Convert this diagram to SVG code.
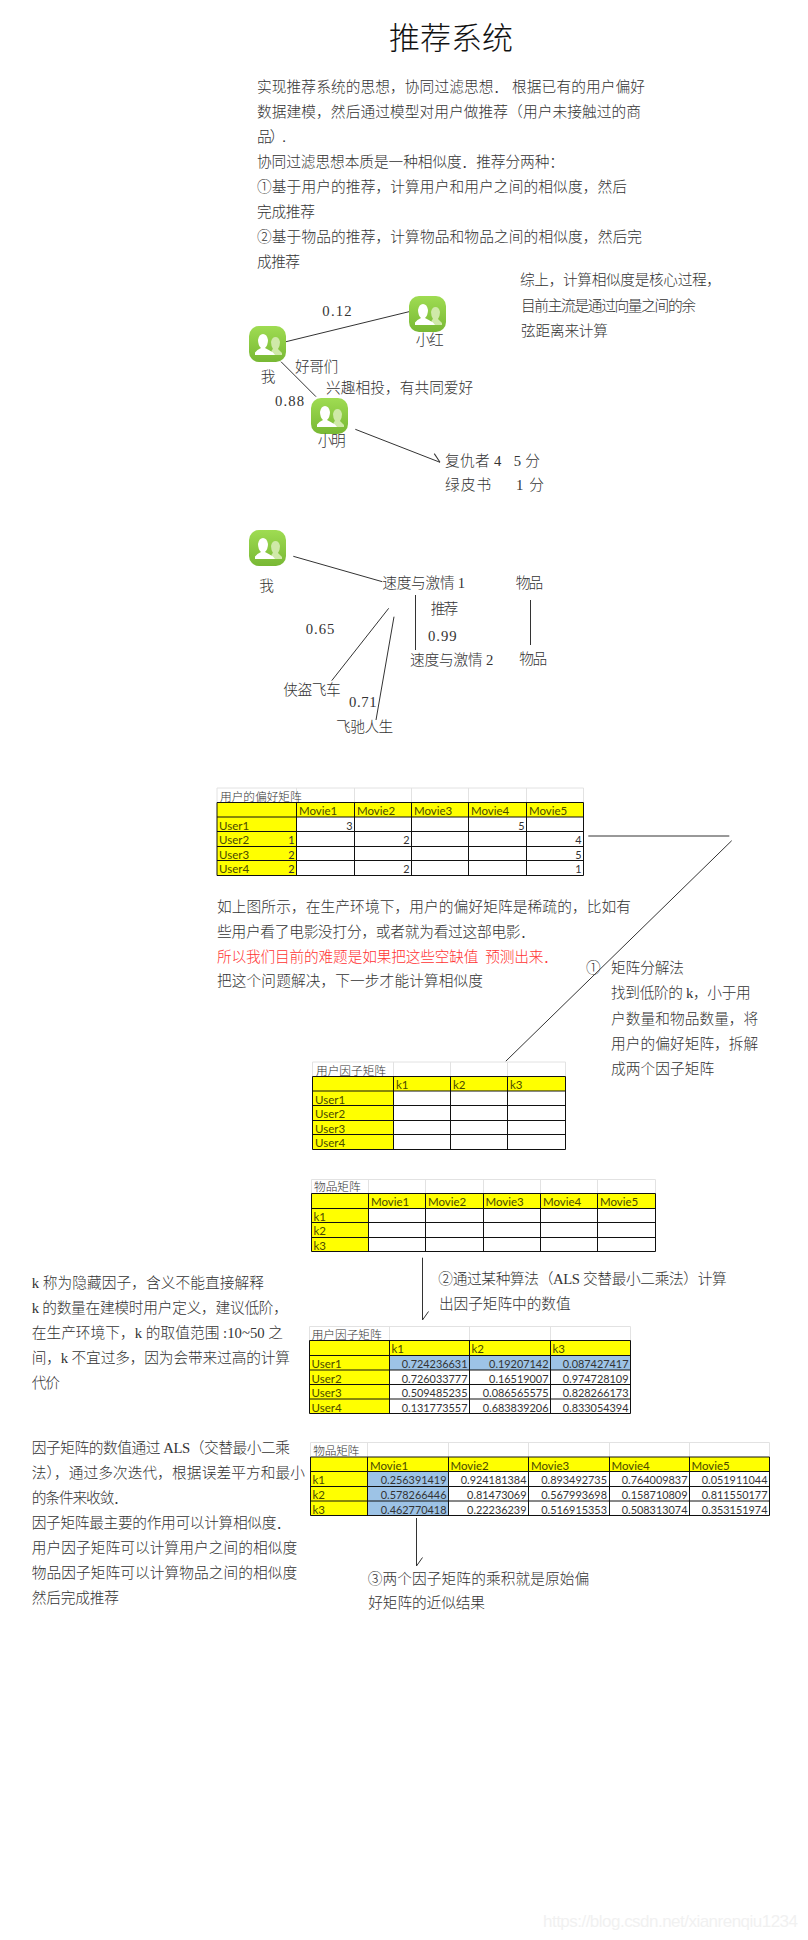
<svg xmlns="http://www.w3.org/2000/svg" width="808" height="1940" viewBox="0 0 808 1940">
<style>
text{font-family:"Liberation Serif","Noto Sans CJK SC",serif;font-size:14.7px;fill:#333;font-weight:300}
.title{font-size:31px;fill:#111}
.red{fill:#f33}
.lb{font-family:"Noto Sans CJK SC","Liberation Sans",sans-serif;font-size:11.7px;fill:#333}
.c{font-family:Lato,"Liberation Sans",sans-serif;font-size:11.5px;fill:#4a4a00;font-weight:400}
.n{font-family:Lato,"Liberation Sans",sans-serif;font-size:10.9px;fill:#333;text-anchor:end;font-weight:400}
.wm{font-family:"Liberation Sans",sans-serif;font-size:17px;fill:#f1f1f1;font-weight:400}
.y{fill:#ff0}.b{fill:#9dc3e6}
.g{fill:none;stroke:#111;stroke-width:1}
.l{fill:none;stroke:#e2e2e2;stroke-width:1}
.k{fill:none;stroke:#333;stroke-width:1}
</style>
<defs>
<linearGradient id="ig" x1="0" y1="0" x2="0" y2="1"><stop offset="0" stop-color="#9fdc52"/><stop offset="1" stop-color="#78b834"/></linearGradient>
<symbol id="icon" viewBox="0 0 37 36" width="37" height="36" overflow="visible">
<rect width="37" height="36" rx="10" fill="url(#ig)"/>
<path d="M22 29 Q22 24 24 23 Q22 20 22 16 Q23 11 26.5 11 Q30 11 31 16 Q31 20 29 23 L33 27 V29 Z" fill="#cfe9a8"/>
<path d="M6 29 V26.500 Q8 23.500 12 22 Q9 19 9 14 Q10 8 14 8 Q18 8 19 14 Q19 19 16 22 Q20 24 24 26.500 L26 29 Z" fill="#fff"/>
</symbol>
<marker id="barb" markerUnits="userSpaceOnUse" markerWidth="1" markerHeight="1" refX="0" refY="0" orient="auto" overflow="visible"><path d="M-8.500-6L0 0" fill="none" stroke="#333"/></marker>
</defs>
<rect width="808" height="1940" fill="#fff"/>
<g id="intro">
<text class="title" x="389" y="49" textLength="124">推荐系统</text>
<text x="257" y="91.500" textLength="388">实现推荐系统的思想，协同过滤思想． 根据已有的用户偏好</text>
<text x="257" y="116.500" textLength="384">数据建模，然后通过模型对用户做推荐（用户未接触过的商</text>
<text x="257" y="141.500" textLength="29">品）.</text>
<text x="257" y="166.500" textLength="307">协同过滤思想本质是一种相似度．推荐分两种：</text>
<text x="257" y="191.500" textLength="370">①基于用户的推荐，计算用户和用户之间的相似度，然后</text>
<text x="257" y="216.500" textLength="58">完成推荐</text>
<text x="257" y="241.500" textLength="385">②基于物品的推荐，计算物品和物品之间的相似度，然后完</text>
<text x="257" y="266.500" textLength="43">成推荐</text>
<text x="520" y="285" textLength="201">综上，计算相似度是核心过程，</text>
<text x="521" y="310.500" textLength="175">目前主流是通过向量之间的余</text>
<text x="521" y="335.500" textLength="87">弦距离来计算</text>
</g>
<g id="connectors">
<path class="k" d="M286 341.700L409 311.700M281 361.700L316 396.700"/>
<path class="k" d="M355.300 429.300L440 462.300" marker-end="url(#barb)"/>
<path class="k" d="M293.300 556.300L382.300 581.700M388.700 608.300L331.700 680.700M394 616.700L376 720M415.500 595V650M530.500 600V645"/>
<path class="k" d="M588.300 836H729.300M731.700 840.700L505.700 1061.300"/>
<path class="k" d="M422.500 1257.700V1320" marker-end="url(#barb)"/>
<path class="k" d="M416.500 1518V1566" marker-end="url(#barb)"/>
</g>
<g id="node-me-1"><use href="#icon" x="249" y="326"/><text x="260.700" y="381.500">我</text></g>
<g id="node-xiaohong"><use href="#icon" x="409" y="296"/><text x="415.700" y="344.800" textLength="28">小红</text></g>
<g id="node-xiaoming"><use href="#icon" x="311" y="398"/><text x="317.700" y="446.200" textLength="28">小明</text></g>
<g id="node-me-2"><use href="#icon" x="249" y="530"/><text x="259.300" y="590.500">我</text></g>
<g id="labels">
<text x="322.300" y="315.500" textLength="29.400">0.12</text>
<text x="295" y="371.500" textLength="43.300">好哥们</text>
<text x="326" y="393.200" textLength="147.300">兴趣相投，有共同爱好</text>
<text x="275" y="405.500" textLength="29">0.88</text>
<text x="445" y="465.500" textLength="95" xml:space="preserve">复仇者 4   5 分</text>
<text x="445" y="489.500" textLength="99" xml:space="preserve">绿皮书     1 分</text>
<text x="382.300" y="587.800" textLength="82.700">速度与激情 1</text>
<text x="515.700" y="588.200" textLength="27.600">物品</text>
<text x="430.700" y="614.200" textLength="27.600">推荐</text>
<text x="305.700" y="633.500" textLength="28.600">0.65</text>
<text x="428" y="640.500" textLength="28.700">0.99</text>
<text x="410" y="664.500" textLength="83.300">速度与激情 2</text>
<text x="519.300" y="663.800" textLength="28">物品</text>
<text x="283.300" y="694.500" textLength="57.400">侠盗飞车</text>
<text x="349" y="707.200" textLength="27.700">0.71</text>
<text x="336" y="732.200" textLength="57.300">飞驰人生</text>
</g>
<g id="table-preference">
<rect class="y" x="217" y="802.500" width="366.500" height="14.500"/><rect class="y" x="217" y="817" width="79.500" height="58.500"/>
<path class="l" d="M217 788H583.500V802.500M217 788V802.500M296.500 788V802.500M354.500 788V802.500M411.500 788V802.500M468.500 788V802.500M526.500 788V802.500"/>
<path class="g" d="M217 802.500H583.500M217 817H583.500M217 831.500H583.500M217 846.500H583.500M217 860.500H583.500M217 875.500H583.500M217 802.500V875.500M296.500 802.500V875.500M354.500 802.500V875.500M411.500 802.500V875.500M468.500 802.500V875.500M526.500 802.500V875.500M583.500 802.500V875.500"/>
<text class="lb" x="220" y="800.500" textLength="81.700">用户的偏好矩阵</text>
<text class="c" x="299" y="815">Movie1</text><text class="c" x="357" y="815">Movie2</text><text class="c" x="414" y="815">Movie3</text><text class="c" x="471" y="815">Movie4</text><text class="c" x="529" y="815">Movie5</text>
<text class="c" x="219" y="829.500">User1</text><text class="c" x="219" y="844">User2</text><text class="c" x="219" y="858.500">User3</text><text class="c" x="219" y="873">User4</text>
<text class="n" x="409.500" y="829.500" style="display:none"></text>
<text class="n" x="352.500" y="829.500">3</text><text class="n" x="524.500" y="829.500">5</text>
<text class="n" x="352.500" y="844" dx="-58">1</text><text class="n" x="409.500" y="844" dx="0">2</text><text class="n" x="581.500" y="844">4</text>
<text class="n" x="294.500" y="858.500">2</text><text class="n" x="581.500" y="858.500">5</text>
<text class="n" x="294.500" y="873">2</text><text class="n" x="409.500" y="873">2</text><text class="n" x="581.500" y="873">1</text>
</g>
<g id="notes">
<text x="217" y="911.500" textLength="414">如上图所示，在生产环境下，用户的偏好矩阵是稀疏的，比如有</text>
<text x="217" y="937.200" textLength="318">些用户看了电影没打分，或者就为看过这部电影．</text>
<text class="red" x="217" y="962.200" textLength="341" xml:space="preserve">所以我们目前的难题是如果把这些空缺值  预测出来．</text>
<text x="217" y="986.200" textLength="266">把这个问题解决，下一步才能计算相似度</text>
<text x="586" y="972.500">①</text>
<text x="611" y="973.200" textLength="73">矩阵分解法</text>
<text x="611" y="998.200" textLength="139.700">找到低阶的 k，小于用</text>
<text x="611" y="1023.500" textLength="147.300">户数量和物品数量，将</text>
<text x="611" y="1048.500" textLength="147.300">用户的偏好矩阵，拆解</text>
<text x="611" y="1073.500" textLength="103.300">成两个因子矩阵</text>
</g>
<g id="table-user-factor">
<rect class="y" x="312.500" y="1076.500" width="253" height="14.500"/><rect class="y" x="312.500" y="1091" width="81" height="58.500"/>
<path class="l" d="M312.500 1062H565.500V1076.500M312.500 1062V1076.500M393.500 1062V1076.500M450.500 1062V1076.500M507.500 1062V1076.500"/>
<path class="g" d="M312.500 1076.500H565.500M312.500 1091H565.500M312.500 1105.500H565.500M312.500 1120.500H565.500M312.500 1134.500H565.500M312.500 1149.500H565.500M312.500 1076.500V1149.500M393.500 1076.500V1149.500M450.500 1076.500V1149.500M507.500 1076.500V1149.500M565.500 1076.500V1149.500"/>
<text class="lb" x="316" y="1074.500" textLength="70">用户因子矩阵</text>
<text class="c" x="396" y="1089">k1</text><text class="c" x="453" y="1089">k2</text><text class="c" x="510" y="1089">k3</text>
<text class="c" x="315" y="1103.500">User1</text><text class="c" x="315" y="1118">User2</text><text class="c" x="315" y="1132.500">User3</text><text class="c" x="315" y="1147">User4</text>
</g>
<g id="table-item">
<rect class="y" x="311.500" y="1193.500" width="344" height="15"/><rect class="y" x="311.500" y="1208.500" width="57" height="43"/>
<path class="l" d="M311.500 1179.500H655.500V1193.500M311.500 1179.500V1193.500M368.500 1179.500V1193.500M425.500 1179.500V1193.500M483.500 1179.500V1193.500M540.500 1179.500V1193.500M597.500 1179.500V1193.500"/>
<path class="g" d="M311.500 1193.500H655.500M311.500 1208.500H655.500M311.500 1222.500H655.500M311.500 1237.500H655.500M311.500 1251.500H655.500M311.500 1193.500V1251.500M368.500 1193.500V1251.500M425.500 1193.500V1251.500M483.500 1193.500V1251.500M540.500 1193.500V1251.500M597.500 1193.500V1251.500M655.500 1193.500V1251.500"/>
<text class="lb" x="314" y="1191" textLength="46.700">物品矩阵</text>
<text class="c" x="371" y="1206">Movie1</text><text class="c" x="428" y="1206">Movie2</text><text class="c" x="485.500" y="1206">Movie3</text><text class="c" x="543" y="1206">Movie4</text><text class="c" x="600" y="1206">Movie5</text>
<text class="c" x="313.500" y="1220.500">k1</text><text class="c" x="313.500" y="1235">k2</text><text class="c" x="313.500" y="1249.500">k3</text>
</g>
<g id="steps">
<text x="438.300" y="1283.800" textLength="288.400">②通过某种算法（ALS 交替最小二乘法）计算</text>
<text x="439" y="1308.800" textLength="131.700">出因子矩阵中的数值</text>
<text x="367.700" y="1583.800" textLength="221.600">③两个因子矩阵的乘积就是原始偏</text>
<text x="368.300" y="1608.200" textLength="116.700">好矩阵的近似结果</text>
</g>
<g id="table-user-values">
<rect class="y" x="309.500" y="1340.500" width="321" height="15"/><rect class="y" x="309.500" y="1355.500" width="80" height="58"/>
<rect class="b" x="389.500" y="1355.500" width="241" height="14.500"/>
<path class="l" d="M309.500 1326.500H630.500V1340.500M309.500 1326.500V1340.500M389.500 1326.500V1340.500M469.500 1326.500V1340.500M550.500 1326.500V1340.500"/>
<path class="g" d="M309.500 1340.500H630.500M309.500 1355.500H630.500M309.500 1370H630.500M309.500 1384.500H630.500M309.500 1399H630.500M309.500 1413.500H630.500M309.500 1340.500V1413.500M389.500 1340.500V1413.500M469.500 1340.500V1413.500M550.500 1340.500V1413.500M630.500 1340.500V1413.500"/>
<text class="lb" x="311.700" y="1338.500" textLength="70">用户因子矩阵</text>
<text class="c" x="391.500" y="1353">k1</text><text class="c" x="471.500" y="1353">k2</text><text class="c" x="552.500" y="1353">k3</text>
<text class="c" x="311.500" y="1368">User1</text><text class="c" x="311.500" y="1382.500">User2</text><text class="c" x="311.500" y="1397">User3</text><text class="c" x="311.500" y="1411.500">User4</text>
<text class="n" x="467.500" y="1368">0.724236631</text><text class="n" x="548.500" y="1368">0.19207142</text><text class="n" x="628.500" y="1368">0.087427417</text>
<text class="n" x="467.500" y="1382.500">0.726033777</text><text class="n" x="548.500" y="1382.500">0.16519007</text><text class="n" x="628.500" y="1382.500">0.974728109</text>
<text class="n" x="467.500" y="1397">0.509485235</text><text class="n" x="548.500" y="1397">0.086565575</text><text class="n" x="628.500" y="1397">0.828266173</text>
<text class="n" x="467.500" y="1411.500">0.131773557</text><text class="n" x="548.500" y="1411.500">0.683839206</text><text class="n" x="628.500" y="1411.500">0.833054394</text>
</g>
<g id="table-item-values">
<rect class="y" x="310.500" y="1457" width="459" height="14.500"/><rect class="y" x="310.500" y="1471.500" width="57" height="44"/>
<rect class="b" x="367.500" y="1471.500" width="81" height="44"/>
<path class="l" d="M310.500 1442.500H769.500V1457M310.500 1442.500V1457M367.500 1442.500V1457M448.500 1442.500V1457M528.500 1442.500V1457M609.500 1442.500V1457M689.500 1442.500V1457"/>
<path class="g" d="M310.500 1457H769.500M310.500 1471.500H769.500M310.500 1486.500H769.500M310.500 1501H769.500M310.500 1515.500H769.500M310.500 1457V1515.500M367.500 1457V1515.500M448.500 1457V1515.500M528.500 1457V1515.500M609.500 1457V1515.500M689.500 1457V1515.500M769.500 1457V1515.500"/>
<text class="lb" x="313.300" y="1455" textLength="46">物品矩阵</text>
<text class="c" x="370" y="1469.500">Movie1</text><text class="c" x="450.500" y="1469.500">Movie2</text><text class="c" x="531" y="1469.500">Movie3</text><text class="c" x="611.500" y="1469.500">Movie4</text><text class="c" x="691.500" y="1469.500">Movie5</text>
<text class="c" x="312.500" y="1484">k1</text><text class="c" x="312.500" y="1499">k2</text><text class="c" x="312.500" y="1513.500">k3</text>
<text class="n" x="446.500" y="1484">0.256391419</text><text class="n" x="526.500" y="1484">0.924181384</text><text class="n" x="607" y="1484">0.893492735</text><text class="n" x="687.500" y="1484">0.764009837</text><text class="n" x="767.500" y="1484">0.051911044</text>
<text class="n" x="446.500" y="1499">0.578266446</text><text class="n" x="526.500" y="1499">0.81473069</text><text class="n" x="607" y="1499">0.567993698</text><text class="n" x="687.500" y="1499">0.158710809</text><text class="n" x="767.500" y="1499">0.811550177</text>
<text class="n" x="446.500" y="1513.500">0.462770418</text><text class="n" x="526.500" y="1513.500">0.22236239</text><text class="n" x="607" y="1513.500">0.516915353</text><text class="n" x="687.500" y="1513.500">0.508313074</text><text class="n" x="767.500" y="1513.500">0.353151974</text>
</g>
<g id="side-notes">
<text x="31.700" y="1288.200" textLength="232.300">k 称为隐藏因子，含义不能直接解释</text>
<text x="31.700" y="1313.200" textLength="256.300">k 的数量在建模时用户定义，建议低阶，</text>
<text x="31.700" y="1338.200" textLength="251.300">在生产环境下，k 的取值范围 :10~50 之</text>
<text x="31.700" y="1363.200" textLength="258.300">间，k 不宜过多，因为会带来过高的计算</text>
<text x="31.700" y="1388.200" textLength="28.300">代价</text>
<text x="31.700" y="1453.200" textLength="258.300">因子矩阵的数值通过 ALS（交替最小二乘</text>
<text x="31.700" y="1478.200" textLength="273.300">法），通过多次迭代，根据误差平方和最小</text>
<text x="31.700" y="1503.200" textLength="96.300">的条件来收敛．</text>
<text x="31.700" y="1528.200" textLength="259">因子矩阵最主要的作用可以计算相似度．</text>
<text x="31.700" y="1553.200" textLength="265.600">用户因子矩阵可以计算用户之间的相似度</text>
<text x="31.700" y="1578.200" textLength="265.600">物品因子矩阵可以计算物品之间的相似度</text>
<text x="31.700" y="1603.200" textLength="87.300">然后完成推荐</text>
</g>
<text class="wm" x="543" y="1927" textLength="255">https://blog.csdn.net/xianrenqiu1234</text>
</svg>
